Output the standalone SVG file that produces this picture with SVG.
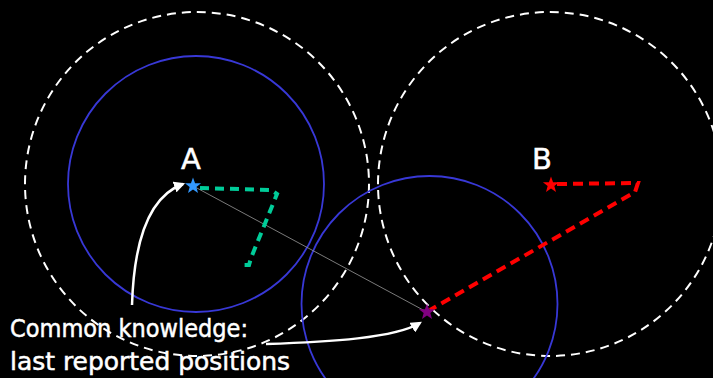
<svg xmlns="http://www.w3.org/2000/svg" width="713" height="378" viewBox="0 0 713 378">
  <defs>
    <style>
      .range { fill: none; stroke: #FFFFFF; stroke-width: 2; stroke-dasharray: 9 6; }
      .blue { fill: none; stroke: #3838D6; stroke-width: 1.8; }
      .lbl { fill: #FFFFFF; stroke: #FFFFFF; stroke-width: 0.5; font-family: "Comic Sans MS", "DejaVu Sans", sans-serif; }
      .arrow { fill: none; stroke: #FFFFFF; stroke-width: 2.5; marker-end: url(#ah); }
    </style>
    <marker id="ah" viewBox="0 0 10 10" refX="8" refY="5" markerWidth="4.5" markerHeight="4.5" orient="auto" markerUnits="strokeWidth">
      <path d="M0,0 L10,5 L0,10 z" fill="#FFFFFF"/>
    </marker>
    <polygon id="star" points="0,-8.5 2.06,-2.84 8.08,-2.63 3.34,1.08 5.0,6.88 0,3.5 -5.0,6.88 -3.34,1.08 -8.08,-2.63 -2.06,-2.84"/>
  </defs>
  <rect width="713" height="378" fill="#000000"/>

  <g id="ranges">
    <circle class="range" cx="197" cy="184" r="172"/>
    <circle class="range" cx="550" cy="184" r="172"/>
    <circle class="blue" cx="196" cy="184" r="128"/>
    <circle class="blue" cx="429.5" cy="304" r="128"/>
  </g>

  <g id="connectors">
    <line x1="195" y1="187" x2="425" y2="311" stroke="#999999" stroke-width="0.8"/>
    <path d="M200,188 L271,190 L277,194 L251,258 L249,265 L241,265" fill="none" stroke="#00CC99" stroke-width="4" stroke-dasharray="9 6"/>
    <path d="M557,184 L638,183 L635,192 L430,310" fill="none" stroke="#FF0000" stroke-width="4" stroke-dasharray="10 6"/>
    <path class="arrow" d="M132,305 C134,240 150,196 183,184"/>
    <path class="arrow" d="M266,344 C330,342 395,338 420,323"/>
  </g>

  <g id="nodeA">
    <use href="#star" x="193" y="186" fill="#3399FF"/>
    <text class="lbl" x="191" y="169" font-size="29" text-anchor="middle">A</text>
  </g>
  <g id="nodeB">
    <use href="#star" x="551" y="185" fill="#FF0000"/>
    <text class="lbl" x="542" y="169" font-size="29" text-anchor="middle">B</text>
  </g>
  <g id="nodeC">
    <use href="#star" x="427" y="312" fill="#800080"/>
  </g>

  <g id="caption">
    <text class="lbl" x="10" y="337" font-size="24" textLength="238" lengthAdjust="spacingAndGlyphs">Common knowledge:</text>
    <text class="lbl" x="10" y="370" font-size="24" textLength="280" lengthAdjust="spacingAndGlyphs">last reported positions</text>
  </g>
</svg>
